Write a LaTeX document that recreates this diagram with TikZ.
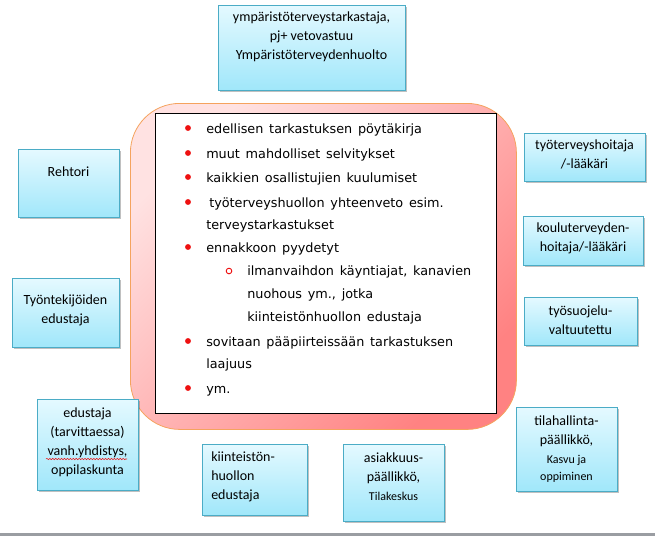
\documentclass[tikz,border=0pt]{standalone}
\usepackage{fontspec}
\setmainfont{Carlito}
\newfontfamily\listfont{DejaVu Sans}
\usetikzlibrary{shadows,decorations.pathmorphing}
\definecolor{pinkL}{HTML}{FFE2E2}
\definecolor{pinkR}{HTML}{FF8282}
\definecolor{pinkB}{HTML}{F5A35E}
\definecolor{cyanT}{HTML}{E4F9FF}
\definecolor{cyanB}{HTML}{A0E7FA}
\definecolor{cyanE}{HTML}{4BACC6}
\definecolor{bul}{HTML}{EE1010}
\definecolor{rulegray}{HTML}{9A9DA2}
\newcommand{\mylistsetup}{\listfont\fontsize{9.6}{12}\selectfont\setlength{\spaceskip}{0.45em}}
\begin{document}
\begin{tikzpicture}[x=0.75pt,y=-0.75pt,
  cbox/.style={draw=cyanE, line width=0.8pt, top color=cyanT, bottom color=cyanB,
    anchor=north west, inner sep=0pt,
    drop shadow={shadow xshift=1.3pt, shadow yshift=-1.3pt, opacity=0.35, fill=black!70}},
  btxt/.style={font=\fontsize{10.5}{14.3}\selectfont, align=center, inner sep=0pt},
  ltxt/.style={font=\mylistsetup, anchor=base west, inner sep=0pt},
  dotb/.style={fill=bul},
]
\useasboundingbox (0,0) rectangle (655,536);
\fill[white] (0,0) rectangle (655,536);
% bottom rule
\fill[rulegray] (0,533) rectangle (655,536);

% central frame
\node[draw=pinkB, line width=0.6pt, rounded corners=37pt, top color=pinkL, bottom color=pinkR,
  shading angle=45, anchor=north west, inner sep=0pt,
  minimum width=289.5pt, minimum height=244.5pt] (frame) at (130,103) {};
\node[draw=black, line width=0.8pt, fill=white, anchor=north west, inner sep=0pt,
  minimum width=255.75pt, minimum height=225pt] (inner) at (155,113) {};

% list
\node[ltxt] (l1) at (206,133) {edellisen tarkastuksen pöytäkirja};
\node[ltxt] (l2) at (206,158) {muut mahdolliset selvitykset};
\node[ltxt] (l3) at (206,182) {kaikkien osallistujien kuulumiset};
\node[ltxt] (l4) at (209,207) {työterveyshuollon yhteenveto esim.};
\node[ltxt] (l5) at (206,229) {terveystarkastukset};
\node[ltxt] (l6) at (206,252) {ennakkoon pyydetyt};
\node[ltxt] (l7) at (247,275) {ilmanvaihdon käyntiajat, kanavien};
\node[ltxt] (l8) at (247,298) {nuohous ym., jotka};
\node[ltxt] (l9) at (247,321) {kiinteistönhuollon edustaja};
\node[ltxt] (l10) at (206,346) {sovitaan pääpiirteissään tarkastuksen};
\node[ltxt] (l11) at (206,368) {laajuus};
\node[ltxt] (l12) at (206,393) {ym.};
\foreach \yy in {128,153,177,202,247,341,388}
  \fill[dotb] (188,\yy) circle[radius=2.2pt];
\draw[bul, line width=0.7pt] (229,271) circle[radius=2.1pt];

% boxes
\node[cbox, minimum width=140.25pt, minimum height=63.75pt] (b1) at (218,5) {};
\node[cbox, minimum width=75.75pt, minimum height=51pt] (b2) at (18,149) {};
\node[cbox, minimum width=80.25pt, minimum height=51.75pt] (b3) at (12,278) {};
\node[cbox, minimum width=90.75pt, minimum height=36pt] (b4) at (524,133) {};
\node[cbox, minimum width=90pt, minimum height=36.75pt] (b5) at (523,216) {};
\node[cbox, minimum width=84.75pt, minimum height=36pt] (b6) at (524,297) {};
\node[cbox, minimum width=75.75pt, minimum height=68.25pt] (b7) at (37,399) {};
\node[cbox, minimum width=78.75pt, minimum height=53.25pt] (b8) at (202,444) {};
\node[cbox, minimum width=75.75pt, minimum height=57.75pt] (b9) at (343,444) {};
\node[cbox, minimum width=75.75pt, minimum height=63pt] (b10) at (516,407) {};

% box texts
\node[btxt] (t1) at (311.5,37) {ympäristöterveystarkastaja,\\pj+ vetovastuu\\Ympäristöterveydenhuolto};
\node[btxt] (t2) at (68.5,172) {Rehtori};
\node[btxt] (t3) at (65.5,310) {Työntekijöiden\\edustaja};
\node[btxt] (t4) at (584.5,154) {työterveyshoitaja\\/-lääkäri};
\node[btxt] (t5) at (583,238) {kouluterveyden-\\hoitaja/-lääkäri};
\node[btxt] (t6) at (580.5,320) {työsuojelu-\\valtuutettu};
\node[btxt] (t7) at (87.5,442) {edustaja\\(tarvittaessa)\\vanh.yhdistys,\\oppilaskunta};
\draw[bul, line width=0.4pt, decorate, decoration={snake, amplitude=0.5pt, segment length=2.2pt}]
  (46,459) -- (127,459);
\node[btxt, align=left, anchor=west] (t8) at (211,476.5) {kiinteistön-\\huollon\\edustaja};
\node[btxt] (t9) at (393.5,477) {asiakkuus-\\päällikkö,\\{\fontsize{9}{12}\selectfont Tilakeskus}};
\node[btxt] (t10) at (566.5,449) {tilahallinta-\\päällikkö,\\{\fontsize{9}{11.5}\selectfont Kasvu ja}\\[-1.5pt]{\fontsize{9}{11.5}\selectfont oppiminen}};
\end{tikzpicture}
\end{document}
